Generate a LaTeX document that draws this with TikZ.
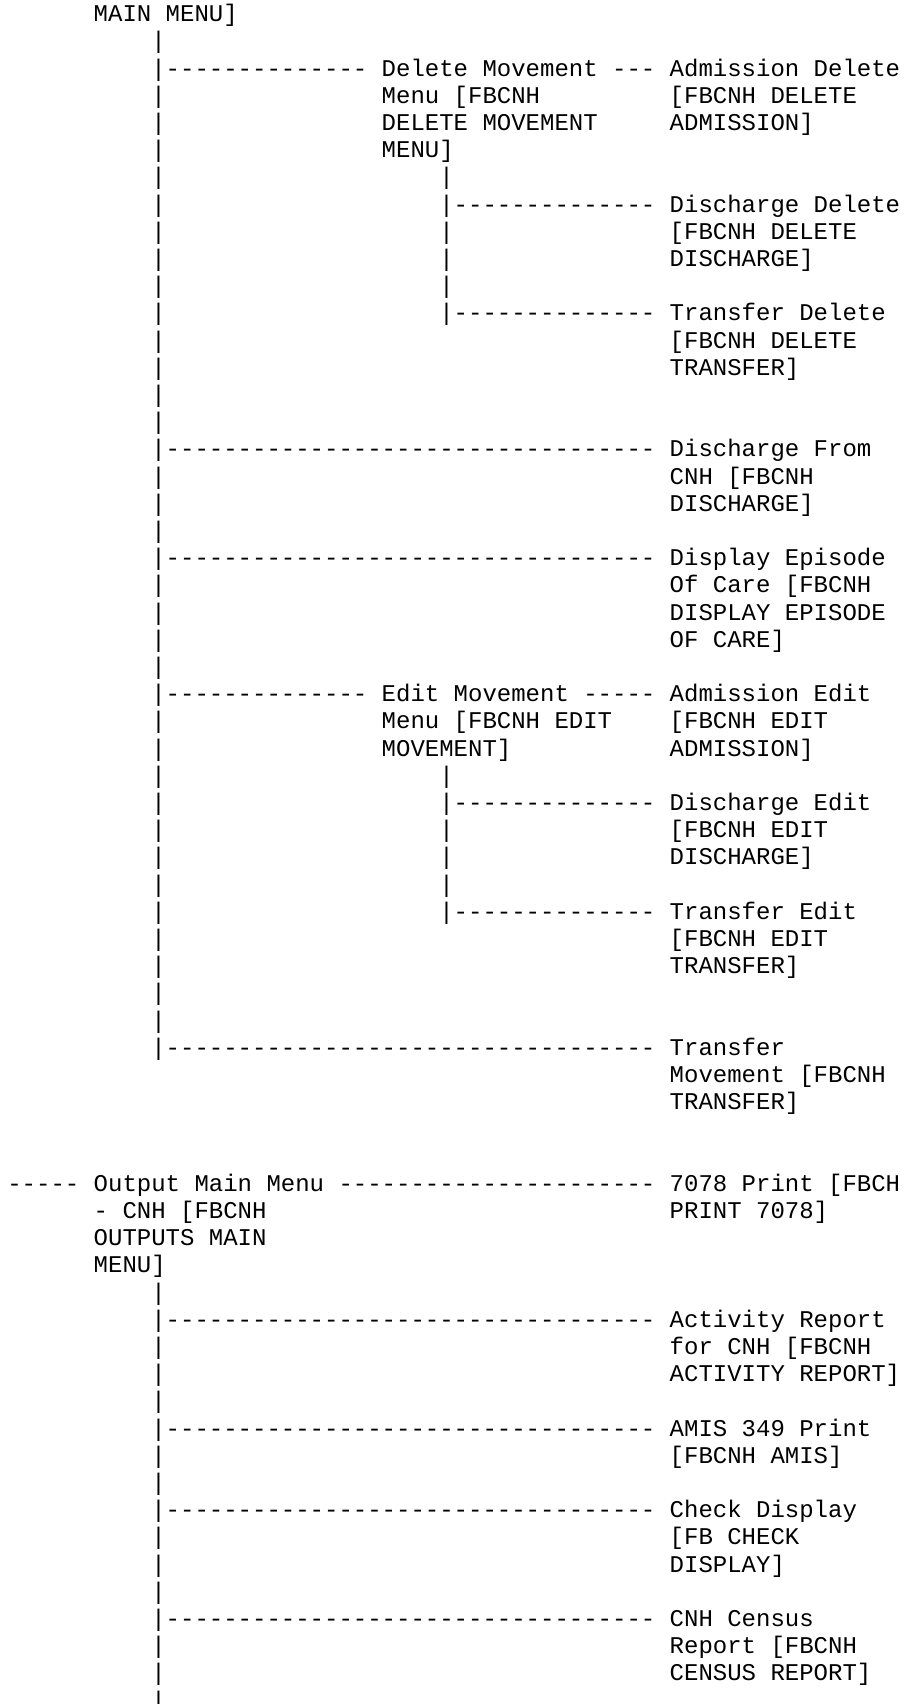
\documentclass[tikz,border=0pt]{standalone}
\usepackage{fontspec}
\setmonofont{Liberation Mono}
\newcommand\Dxiv{--------------}
\newcommand\Dxxxiv{----------------------------------}
\newcommand\Dxxii{----------------------}
\newcommand\T[3]{\node[txt] (t#2c#1) at ({7.3+#1*14.4},{-21.7-(#2-1)*27.2}) {#3};}
\newcommand\Pp[1]{\T{10}{#1}{|}}
\newcommand\Qq[1]{\T{30}{#1}{|}}
\begin{document}
\begin{tikzpicture}[x=1pt,y=1pt,
  txt/.style={anchor=base west, inner sep=0pt, outer sep=0pt,
    font=\ttfamily\fontsize{24pt}{27.2pt}\selectfont, text=black}]
\useasboundingbox (0,0) rectangle (905,-1704);
% --- upper tree
\T{6}{1}{MAIN MENU]}
\Pp{2}
\T{10}{3}{|\Dxiv{} Delete Movement --- Admission Delete}
\Pp{4}\T{26}{4}{Menu [FBCNH}\T{46}{4}{[FBCNH DELETE}
\Pp{5}\T{26}{5}{DELETE MOVEMENT}\T{46}{5}{ADMISSION]}
\Pp{6}\T{26}{6}{MENU]}
\Pp{7}\Qq{7}
\Pp{8}\T{30}{8}{|\Dxiv{} Discharge Delete}
\Pp{9}\Qq{9}\T{46}{9}{[FBCNH DELETE}
\Pp{10}\Qq{10}\T{46}{10}{DISCHARGE]}
\Pp{11}\Qq{11}
\Pp{12}\T{30}{12}{|\Dxiv{} Transfer Delete}
\Pp{13}\T{46}{13}{[FBCNH DELETE}
\Pp{14}\T{46}{14}{TRANSFER]}
\Pp{15}
\Pp{16}
\T{10}{17}{|\Dxxxiv{} Discharge From}
\Pp{18}\T{46}{18}{CNH [FBCNH}
\Pp{19}\T{46}{19}{DISCHARGE]}
\Pp{20}
\T{10}{21}{|\Dxxxiv{} Display Episode}
\Pp{22}\T{46}{22}{Of Care [FBCNH}
\Pp{23}\T{46}{23}{DISPLAY EPISODE}
\Pp{24}\T{46}{24}{OF CARE]}
\Pp{25}
\T{10}{26}{|\Dxiv{} Edit Movement ----- Admission Edit}
\Pp{27}\T{26}{27}{Menu [FBCNH EDIT}\T{46}{27}{[FBCNH EDIT}
\Pp{28}\T{26}{28}{MOVEMENT]}\T{46}{28}{ADMISSION]}
\Pp{29}\Qq{29}
\Pp{30}\T{30}{30}{|\Dxiv{} Discharge Edit}
\Pp{31}\Qq{31}\T{46}{31}{[FBCNH EDIT}
\Pp{32}\Qq{32}\T{46}{32}{DISCHARGE]}
\Pp{33}\Qq{33}
\Pp{34}\T{30}{34}{|\Dxiv{} Transfer Edit}
\Pp{35}\T{46}{35}{[FBCNH EDIT}
\Pp{36}\T{46}{36}{TRANSFER]}
\Pp{37}
\Pp{38}
\T{10}{39}{|\Dxxxiv{} Transfer}
\T{46}{40}{Movement [FBCNH}
\T{46}{41}{TRANSFER]}
% --- output tree
\T{0}{44}{----- Output Main Menu \Dxxii{} 7078 Print [FBCH}
\T{6}{45}{- CNH [FBCNH}\T{46}{45}{PRINT 7078]}
\T{6}{46}{OUTPUTS MAIN}
\T{6}{47}{MENU]}
\Pp{48}
\T{10}{49}{|\Dxxxiv{} Activity Report}
\Pp{50}\T{46}{50}{for CNH [FBCNH}
\Pp{51}\T{46}{51}{ACTIVITY REPORT]}
\Pp{52}
\T{10}{53}{|\Dxxxiv{} AMIS 349 Print}
\Pp{54}\T{46}{54}{[FBCNH AMIS]}
\Pp{55}
\T{10}{56}{|\Dxxxiv{} Check Display}
\Pp{57}\T{46}{57}{[FB CHECK}
\Pp{58}\T{46}{58}{DISPLAY]}
\Pp{59}
\T{10}{60}{|\Dxxxiv{} CNH Census}
\Pp{61}\T{46}{61}{Report [FBCNH}
\Pp{62}\T{46}{62}{CENSUS REPORT]}
\Pp{63}
\end{tikzpicture}
\end{document}
